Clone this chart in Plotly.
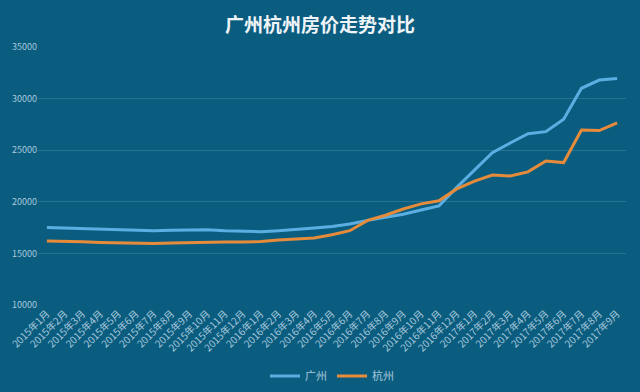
import plotly.graph_objects as go

months = [f"{y}年{m}月" for y, ms in ((2015, range(1, 13)), (2016, range(1, 13)), (2017, range(1, 10))) for m in ms]

guangzhou = [17500, 17450, 17350, 17300, 17250, 17200, 17200, 17250, 17300, 17300, 17200, 17150,
             17100, 17200, 17300, 17450, 17600, 17850, 18200, 18500, 18800, 19200, 19600, 21400,
             23100, 24750, 25700, 26600, 26800, 28000, 31000, 31800, 31950]
hangzhou = [16200, 16180, 16120, 16050, 16000, 15950, 15950, 16000, 16050, 16100, 16100, 16100,
            16150, 16300, 16400, 16500, 16800, 17200, 18200, 18700, 19300, 19800, 20100, 21250,
            22000, 22600, 22500, 22900, 23950, 23800, 26950, 26900, 27650]
ytick_vals = [10000, 15000, 20000, 25000, 30000, 35000]
ytick_text = [str(v) for v in ytick_vals]

bg = "#0b5d80"
txt = "#a9c9dc"
font_family = "Noto Sans CJK SC, Noto Sans, sans-serif"

fig = go.Figure()
fig.add_trace(go.Scatter(x=months, y=guangzhou, name="广州", mode="lines",
                         line=dict(color="#5aaee2", width=3)))
fig.add_trace(go.Scatter(x=months, y=hangzhou, name="杭州", mode="lines",
                         line=dict(color="#e58b3a", width=3)))

fig.update_layout(
    width=640, height=392,
    paper_bgcolor=bg, plot_bgcolor=bg,
    margin=dict(l=38, r=14, t=47, b=87, autoexpand=False),
    font=dict(family=font_family, color=txt, size=9),
    title=dict(text="<b>广州杭州房价走势对比</b>", x=0.5, xanchor="center", y=0.935, yanchor="middle",
               font=dict(size=19, color="#eef4f8", family=font_family)),
    showlegend=True,
    legend=dict(orientation="h", x=0.5, xanchor="center", y=-0.275, yanchor="middle",
                font=dict(size=11, color=txt), bgcolor="rgba(0,0,0,0)", itemwidth=30),
    xaxis=dict(type="category", tickangle=-45, showgrid=False, showline=False, zeroline=False,
               ticks="", tickfont=dict(size=10, color=txt), range=[-0.5, 32.5], automargin=False),
    yaxis=dict(range=[10000, 35000], tickvals=ytick_vals, ticktext=ytick_text,
               showgrid=True, gridcolor="rgba(160,200,225,0.2)", gridwidth=1, automargin=False,
               zeroline=False, showline=False, ticks="", tickfont=dict(size=9, color=txt)),
)

fig.write_html("out.html")
